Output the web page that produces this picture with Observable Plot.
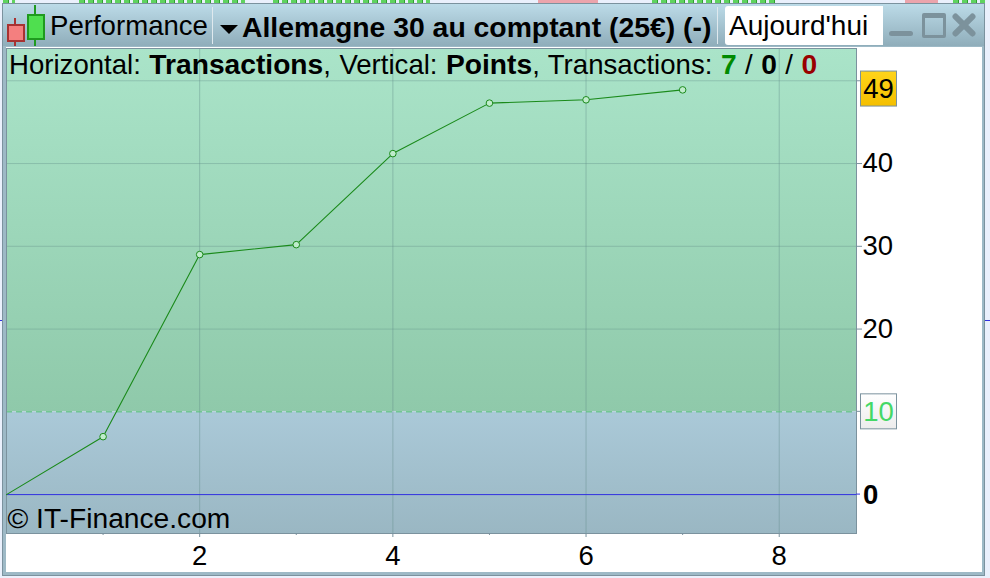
<!DOCTYPE html>
<html>
<head>
<meta charset="utf-8">
<script src="https://cdn.jsdelivr.net/npm/d3@7"></script>
<script src="https://cdn.jsdelivr.net/npm/@observablehq/plot@0.6"></script>
<style>
html,body{margin:0;padding:0;width:990px;height:578px;overflow:hidden;background:#eaf0fc;font-family:"Liberation Sans",Arial,sans-serif;color:#000}
.a{position:absolute}
#win{left:2px;top:3px;width:983px;height:573px;box-sizing:border-box;border:1px solid #7b929e;background:#9db9c6}
#bar{left:3px;top:4px;width:981px;height:42px;background:linear-gradient(#bcdbe8,#8fadba)}
#body{left:6px;top:47px;width:975.5px;height:525px;background:#fff}
.strip{top:0;height:3px;background:repeating-linear-gradient(90deg,#5fd35f 0 5px,#2f9f2f 5px 6px,#eaf0fc 6px 9px)}
.sep{top:7px;width:1px;height:37px;background:#dfe9ee}
.t{font-size:27.6px;line-height:32px;white-space:nowrap}
.t b,#b{font-weight:bold;font-size:28.2px}
#b{font-size:28.35px}
#box{left:725px;top:6px;width:158px;height:39px;background:#fff;border-radius:3px 0 0 3px}
#min{left:889px;top:31px;width:24px;height:5px;background:#7c929c;border-radius:3px}
#max{left:922px;top:13px;width:18px;height:17px;border:3px solid #7c929c;border-top-width:5px;border-radius:2px}
.xb{left:949px;top:22px;width:30px;height:6px;background:#7c929c;border-radius:3px}
#tri{left:220px;top:25px;width:0;height:0;border-left:9px solid transparent;border-right:9px solid transparent;border-top:9px solid #000}
.wick{width:2px}
#info{left:9px;top:48px;z-index:3;word-spacing:0.8px}
</style>
</head>
<body>
<div class="a strip" style="left:3px;width:12px"></div>
<div class="a strip" style="left:79px;width:166px"></div>
<div class="a strip" style="left:273px;width:157px"></div>
<div class="a strip" style="left:652px;width:124px"></div>
<div class="a strip" style="left:953px;width:32px"></div>
<div class="a" style="left:538px;top:0;width:60px;height:3px;background:#eba4ac"></div>
<div class="a" style="left:905px;top:0;width:33px;height:3px;background:#eba4ac"></div>
<div class="a" style="left:0;top:320px;width:2px;height:1px;background:#3030e0"></div>
<div class="a" style="left:985px;top:320px;width:5px;height:1px;background:#3030e0"></div>
<div class="a" id="win"></div>
<div class="a" id="bar"></div>
<div class="a" id="body"></div>
<div class="a sep" style="left:212px"></div>
<div class="a sep" style="left:717px"></div>
<!-- candle icon -->
<div class="a wick" style="left:14px;top:18px;height:28px;background:#a83232"></div>
<div class="a" style="left:7px;top:24px;width:14px;height:14px;background:#f47f7f;border:2px solid #a83232"></div>
<div class="a wick" style="left:34px;top:5px;height:41px;background:#1f9a1f"></div>
<div class="a" style="left:27px;top:14px;width:14px;height:22px;background:#4fdf4f;border:2px solid #1f9a1f"></div>
<div class="a t" style="left:50px;top:10px">Performance</div>
<div class="a" id="tri"></div>
<div class="a t" id="b" style="left:242px;top:11px">Allemagne 30 au comptant (25€) (-)</div>
<div class="a" id="box"></div>
<div class="a t" style="left:729px;top:10px;font-size:28px">Aujourd'hui</div>
<div class="a" id="min"></div>
<div class="a" id="max"></div>
<div class="a xb" style="transform:rotate(45deg)"></div>
<div class="a xb" style="transform:rotate(-45deg)"></div>
<div class="a t" id="info">Horizontal: <b>Transactions</b>, Vertical: <b>Points</b>, Transactions: <b style="color:#008a00">7</b> / <b>0</b> / <b style="color:#990000">0</b></div>
<div class="a" id="chart" style="left:6px;top:47px"></div>
<script>
const transactions = [0, 1, 2, 3, 4, 5, 6, 7];
const points = [0, 7, 29, 30.2, 41.2, 47.3, 47.7, 48.9];
const xTicks = [2, 4, 6, 8];
const xMinor = [1, 3, 5, 7];
const yTicks = [20, 30, 40, 50];
const yGrid = [20, 30, 40, 50];
const xDomain = [0, 8.8];
const yDomain = [-4.7, 53.9];
const threshold = 10;
const finalValue = 49;
const credit = "© IT-Finance.com";
const series = transactions.map((t, i) => ({t, p: points[i]}));
const font = '"Liberation Sans",Arial,sans-serif';

const grads = () => {
  const svg = d3.create("svg:g");
  const defs = svg.append("defs");
  const add = (id, a, b) => {
    const g = defs.append("linearGradient").attr("id", id).attr("x1", 0).attr("x2", 0).attr("y1", 0).attr("y2", 1);
    g.append("stop").attr("offset", 0).attr("stop-color", a);
    g.append("stop").attr("offset", 1).attr("stop-color", b);
  };
  add("gTop", "#aae4c9", "#8fc9aa");
  add("gBot", "#aac9d8", "#9ab7c3");
  return svg.node();
};

const plot = Plot.plot({
  width: 976, height: 525,
  marginLeft: 0, marginRight: 126, marginTop: 1, marginBottom: 39,
  style: {background: "transparent", fontFamily: font, overflow: "visible"},
  x: {domain: xDomain, label: null},
  y: {domain: yDomain, label: null},
  marks: [
    grads,
    Plot.rectY([0], {x1: xDomain[0], x2: xDomain[1], y1: threshold, y2: yDomain[1], fill: "url(#gTop)"}),
    Plot.rectY([0], {x1: xDomain[0], x2: xDomain[1], y1: yDomain[0], y2: threshold, fill: "url(#gBot)"}),
    Plot.ruleX(xTicks, {stroke: "#5f8a86", strokeOpacity: 0.4, strokeWidth: 1}),
    Plot.ruleY(yGrid, {stroke: "#5f8a86", strokeOpacity: 0.35, strokeWidth: 1}),
    Plot.ruleY([threshold], {stroke: "#4fc070", strokeDasharray: "6,4", strokeWidth: 1}),
    Plot.ruleY([0], {stroke: "#3030e0", strokeWidth: 1}),
    Plot.frame({stroke: "#7b929e", strokeWidth: 1}),
    Plot.axisX({ticks: xMinor, tickSize: 2, tickFormat: () => "", stroke: "#7b929e", label: null}),
    Plot.axisX({ticks: xTicks, tickSize: 4, tickPadding: 8, fontSize: 27.5, stroke: "#7b929e", label: null}),
    Plot.axisY({anchor: "right", ticks: yTicks, tickSize: 5, tickPadding: 1, fontSize: 27.5, stroke: "#7b929e", label: null}),
    Plot.line(series, {x: "t", y: "p", stroke: "#1a8a1a", strokeWidth: 1.1}),
    Plot.dot(series.slice(1), {x: "t", y: "p", r: 3.3, stroke: "#1a8a1a", fill: "#bfeccc", strokeWidth: 1}),
    Plot.text([credit], {frameAnchor: "bottom-left", dx: 1, dy: -6, fontSize: 28.2, fill: "#000", lineAnchor: "bottom"})
  ]
});
document.getElementById("chart").appendChild(plot);

// value badges and zero label placed from the plot's own scales
const sx = plot.scale("x"), sy = plot.scale("y");
const svg = d3.select(plot);
const bx = sx.apply(xDomain[1]) + 4;
const ruleTo = (v, c) => svg.append("line").attr("x1", sx.apply(xDomain[1])).attr("x2", bx).attr("y1", sy.apply(v)).attr("y2", sy.apply(v)).attr("stroke", c);
ruleTo(threshold, "#7b929e");
ruleTo(0, "#3030e0");
const defs = svg.append("defs");
const yg = defs.append("linearGradient").attr("id", "gYel").attr("x1", 0).attr("x2", 0).attr("y1", 0).attr("y2", 1);
yg.append("stop").attr("offset", 0).attr("stop-color", "#ffd41a");
yg.append("stop").attr("offset", 1).attr("stop-color", "#f4bf00");
const wg = defs.append("linearGradient").attr("id", "gWht").attr("x1", 0).attr("x2", 0).attr("y1", 0).attr("y2", 1);
wg.append("stop").attr("offset", 0).attr("stop-color", "#ffffff");
wg.append("stop").attr("offset", 1).attr("stop-color", "#ececec");
const badge = (v, fill, color, h) => {
  const y = sy.apply(v);
  svg.append("rect").attr("x", bx + .5).attr("y", y - h / 2).attr("width", 36).attr("height", h).attr("fill", fill).attr("stroke", "#7b929e");
  svg.append("text").attr("x", bx + 18.5).attr("y", y).attr("dy", "0.36em").attr("text-anchor", "middle").attr("font-size", 27.5).attr("fill", color).text(v);
};
badge(finalValue, "url(#gYel)", "#000", 35);
badge(threshold, "url(#gWht)", "#44d866", 35);
svg.append("text").attr("x", bx + 3).attr("y", sy.apply(0)).attr("dy", "0.36em").attr("text-anchor", "start").attr("font-size", 27.5).attr("font-weight", "bold").attr("fill", "#000").text("0");
</script>
</body>
</html>
